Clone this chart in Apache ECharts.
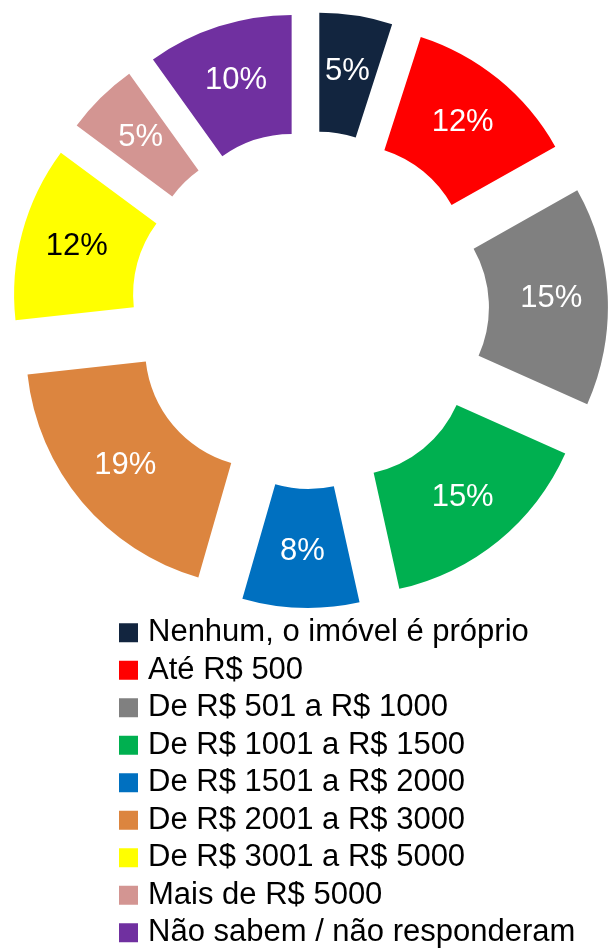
<!DOCTYPE html>
<html>
<head>
<meta charset="utf-8">
<script src="https://cdn.jsdelivr.net/npm/echarts@6/dist/echarts.min.js"></script>
<style>
  html, body { margin: 0; padding: 0; background: #fff; }
  #main { width: 609px; height: 952px; }
</style>
</head>
<body>
<div id="main"></div>
<script type="text/javascript">
  // categorias e valores (%)
  var categories = [
    'Nenhum, o imóvel é próprio',
    'Até R$ 500',
    'De R$ 501 a R$ 1000',
    'De R$ 1001 a R$ 1500',
    'De R$ 1501 a R$ 2000',
    'De R$ 2001 a R$ 3000',
    'De R$ 3001 a R$ 5000',
    'Mais de R$ 5000',
    'Não sabem / não responderam'
  ];
  var values = [5, 12, 15, 15, 8, 19, 12, 5, 10];
  var colors = ['#12253F', '#FF0000', '#808080', '#00B050', '#0070C0',
                '#DC853F', '#FFFF00', '#D39592', '#7030A0'];
  var labelColors = ['#fff', '#fff', '#fff', '#fff', '#fff', '#fff', '#000', '#fff', '#fff'];

  var font = '"Liberation Sans", Arial, sans-serif';

  var pieData = categories.map(function (name, i) {
    return {
      name: name,
      value: values[i],
      selected: true,
      itemStyle: { color: colors[i] },
      label: { color: labelColors[i] }
    };
  });

  var myChart = echarts.init(document.getElementById('main'));

  option = {
    animation: false,
    backgroundColor: '#fff',
    color: colors,
    legend: {
      orient: 'vertical',
      left: 119,
      top: 614,
      padding: 0,
      itemGap: 0,
      itemWidth: 19,
      itemHeight: 19,
      icon: 'rect',
      selectedMode: false,
      data: categories,
      textStyle: {
        fontFamily: font,
        fontSize: 31,
        lineHeight: 37.5,
        padding: [0, 0, 0, 5],
        color: '#000'
      }
    },
    series: [
      {
        type: 'pie',
        center: [310, 310],
        radius: [119, 238],
        startAngle: 90,
        clockwise: true,
        selectedMode: 'multiple',
        selectedOffset: 60,
        avoidLabelOverlap: false,
        label: {
          show: true,
          position: 'inside',
          formatter: '{c}%',
          fontFamily: font,
          fontSize: 31,
          padding: [6, 0, 0, 0]
        },
        labelLine: { show: false },
        emphasis: { disabled: true, scale: false },
        select: { itemStyle: { borderWidth: 0 } },
        data: pieData
      }
    ]
  };

  myChart.setOption(option);
</script>
</body>
</html>
